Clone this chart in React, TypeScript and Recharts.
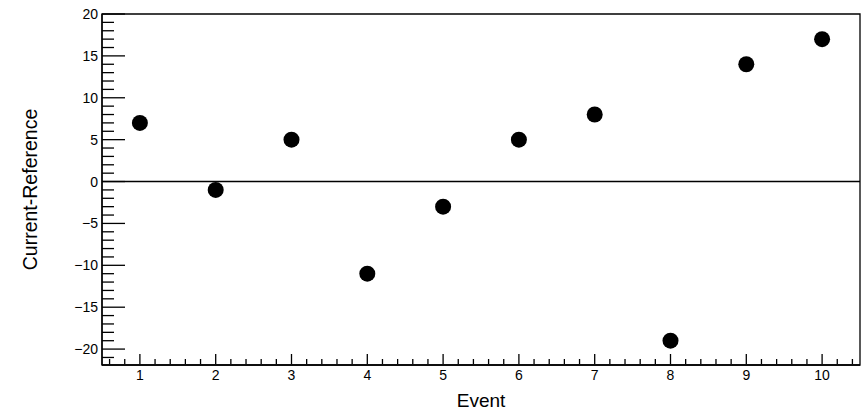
import React from "react";
import {
  ScatterChart,
  Scatter,
  XAxis,
  YAxis,
  ReferenceLine,
  ReferenceArea,
} from "recharts";

const events = [1, 2, 3, 4, 5, 6, 7, 8, 9, 10];
const differences = [7, -1, 5, -11, -3, 5, 8, -19, 14, 17];

const xDomain: [number, number] = [0.5, 10.5];
const yDomain: [number, number] = [-21.9, 20];
const xMajorTicks = [1, 2, 3, 4, 5, 6, 7, 8, 9, 10];
const yMajorTicks = [-20, -15, -10, -5, 0, 5, 10, 15, 20];

const xTitle = "Event";
const yTitle = "Current-Reference";

const FONT = "'Liberation Sans', Arial, Helvetica, sans-serif";

// minor tick positions (axis decoration)
const xAllTicks: number[] = [];
for (let i = 3; i <= 52; i++) xAllTicks.push(Math.round(i * 2) / 10);
const yAllTicks: number[] = [];
for (let v = -21; v <= 20; v++) yAllTicks.push(v);

const data = events.map((e, i) => ({ x: e, y: differences[i] }));

const isMajorX = (v: number) => xMajorTicks.some((t) => Math.abs(t - v) < 1e-6);
const isMajorY = (v: number) => yMajorTicks.includes(v);

const fmt = (v: number) => (v < 0 ? "\u2212" + Math.abs(v) : String(v));

const XTick = (props: any) => {
  const { x, payload } = props;
  const y = props.y - 1;
  const v = payload.value;
  const major = isMajorX(v);
  return (
    <g>
      <line x1={x} x2={x} y1={y} y2={y - (major ? 10 : 5)} stroke="#000" strokeWidth={1.3} />
      {major && (
        <text x={x} y={y + 15.5} textAnchor="middle" fontSize={14} fontFamily={FONT} fill="#000">
          {fmt(v)}
        </text>
      )}
    </g>
  );
};

const YTick = (props: any) => {
  const { x, y, payload } = props;
  const v = payload.value;
  const major = isMajorY(v);
  return (
    <g>
      <line x1={x} x2={x + (major ? 23 : 12)} y1={y} y2={y} stroke="#000" strokeWidth={1.3} />
      {major && (
        <text x={x - 4} y={y + 5} textAnchor="end" fontSize={14} fontFamily={FONT} fill="#000">
          {fmt(v)}
        </text>
      )}
    </g>
  );
};

const Dot = (props: any) => {
  const { cx, cy } = props;
  return <circle cx={cx} cy={cy} r={8} fill="#000" />;
};

export default function App() {
  return (
    <div style={{ position: "absolute", left: 0, top: 0, width: 863, height: 410, background: "#fff" }}>
      <ScatterChart width={863} height={410} margin={{ top: 14, right: 3, bottom: 44, left: 101 }}>
        <XAxis
          type="number"
          dataKey="x"
          domain={xDomain}
          ticks={xAllTicks}
          interval={0}
          allowDataOverflow
          height={1}
          tickSize={0}
          tickMargin={0}
          tickLine={false}
          axisLine={{ stroke: "#000", strokeWidth: 1.3 }}
          tick={<XTick />}
          label={{
            value: xTitle,
            position: "insideBottom",
            offset: -41,
            fontSize: 19,
            fontFamily: FONT,
            fill: "#000",
          }}
        />
        <YAxis
          type="number"
          dataKey="y"
          domain={yDomain}
          ticks={yAllTicks}
          interval={0}
          allowDataOverflow
          width={1}
          tickSize={0}
          tickMargin={0}
          tickLine={false}
          axisLine={{ stroke: "#000", strokeWidth: 1.3 }}
          tick={<YTick />}
          label={{
            value: yTitle,
            angle: -90,
            position: "insideLeft",
            offset: -71,
            fontSize: 19.5,
            fontFamily: FONT,
            fill: "#000",
            style: { textAnchor: "middle" },
          }}
        />
        <ReferenceArea
          x1={xDomain[0]}
          x2={xDomain[1]}
          y1={yDomain[0]}
          y2={yDomain[1]}
          fill="none"
          fillOpacity={0}
          stroke="#000"
          strokeWidth={1.3}
          ifOverflow="visible"
        />
        <ReferenceLine y={0} stroke="#000" strokeWidth={1.5} />
        <Scatter data={data} fill="#000" shape={<Dot />} isAnimationActive={false} />
      </ScatterChart>
    </div>
  );
}
